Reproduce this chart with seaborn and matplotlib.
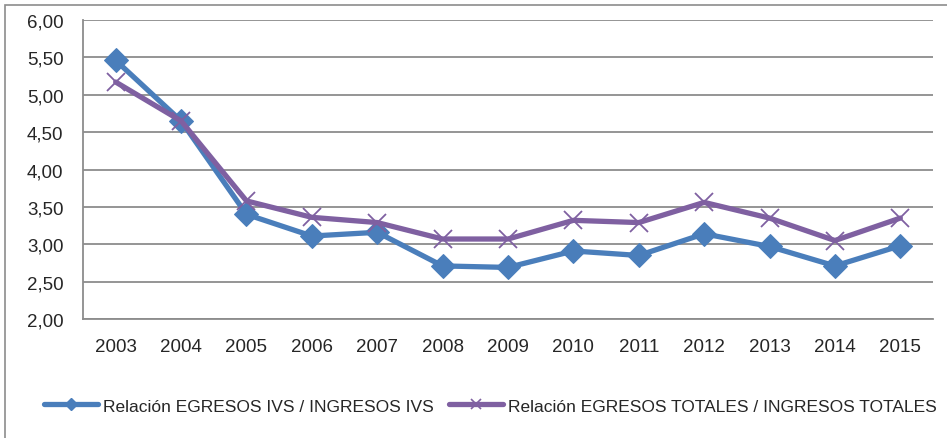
import matplotlib
matplotlib.use("Agg")
import matplotlib.pyplot as plt
import seaborn as sns
import pandas as pd
import numpy as np
from matplotlib.patches import Rectangle
from matplotlib.lines import Line2D

years = ["2003", "2004", "2005", "2006", "2007", "2008", "2009",
         "2010", "2011", "2012", "2013", "2014", "2015"]
ivs = [5.46, 4.65, 3.40, 3.11, 3.16, 2.71, 2.69, 2.91, 2.85, 3.14, 2.97, 2.71, 2.98]
totales = [5.17, 4.65, 3.58, 3.36, 3.29, 3.07, 3.07, 3.32, 3.29, 3.56, 3.35, 3.05, 3.35]
series_names = ["Relación EGRESOS IVS / INGRESOS IVS",
                "Relación EGRESOS TOTALES / INGRESOS TOTALES"]
y_ticks = [2.0, 2.5, 3.0, 3.5, 4.0, 4.5, 5.0, 5.5, 6.0]

df = pd.DataFrame({
    "x": list(range(len(years))) * 2,
    "valor": ivs + totales,
    "serie": [series_names[0]] * len(years) + [series_names[1]] * len(years),
})

sns.set_style("white")
plt.rcParams["font.family"] = ["Liberation Sans", "DejaVu Sans"]

blue = "#4A7EBB"
purple = "#7F60A1"
grid_c = "#8C8C8C"

fig = plt.figure(figsize=(9.47, 4.39), dpi=100)
ax = fig.add_axes([83 / 947, 1 - 320 / 439, (933 - 83) / 947, (320 - 21) / 439])

fig.patches.append(Rectangle((5 / 947, -0.01), 1.0, 1.01 - 6 / 439,
                             transform=fig.transFigure, fill=False,
                             edgecolor="#8C8C8C", linewidth=1.2))

sns.lineplot(data=df[df.serie == series_names[0]], x="x", y="valor", ax=ax,
             color=blue, linewidth=3.8, marker="D", markersize=12,
             markeredgecolor=blue, markerfacecolor=blue, legend=False, zorder=3)
sns.lineplot(data=df[df.serie == series_names[1]], x="x", y="valor", ax=ax,
             color=purple, linewidth=3.8, marker="x", markersize=13,
             markeredgewidth=1.3, markeredgecolor=purple, legend=False, zorder=4)

ax.set_xlim(-0.5, len(years) - 0.5)
ax.set_ylim(2.0, 6.0)
ax.set_yticks(y_ticks)
ax.set_yticklabels([f"{v:.2f}".replace(".", ",") for v in y_ticks], fontsize=13.5)
ax.set_xticks(range(len(years)))
ax.set_xticklabels(years, fontsize=13.5)
ax.set_xticks(np.arange(-0.5, len(years), 1.0), minor=True)
ax.tick_params(axis="x", which="major", length=0, pad=14)
ax.tick_params(axis="x", which="minor", length=5, width=1.2, color=grid_c, direction="out")
ax.tick_params(axis="y", length=5, width=1.2, color=grid_c, direction="out", pad=9)
ax.set_xlabel("")
ax.set_ylabel("")
ax.yaxis.grid(True, color=grid_c, linewidth=1.3)
ax.xaxis.grid(False)
ax.set_axisbelow(True)
for s in ["top", "right"]:
    ax.spines[s].set_visible(False)
for s in ["left", "bottom"]:
    ax.spines[s].set_color(grid_c)
    ax.spines[s].set_linewidth(1.3)

handles = [Line2D([0], [0], color=blue, lw=3.8, marker="D", markersize=6),
           Line2D([0], [0], color=purple, lw=3.8, marker="x", markersize=7, markeredgewidth=1.2)]
fig.legend(handles, series_names, loc="center", bbox_to_anchor=(0.518, 1 - 407 / 439),
           ncol=2, frameon=False, fontsize=12.5, handlelength=3.1, handletextpad=0.3,
           columnspacing=0.9, borderpad=0, borderaxespad=0)

fig.savefig("out.png", dpi=100)
